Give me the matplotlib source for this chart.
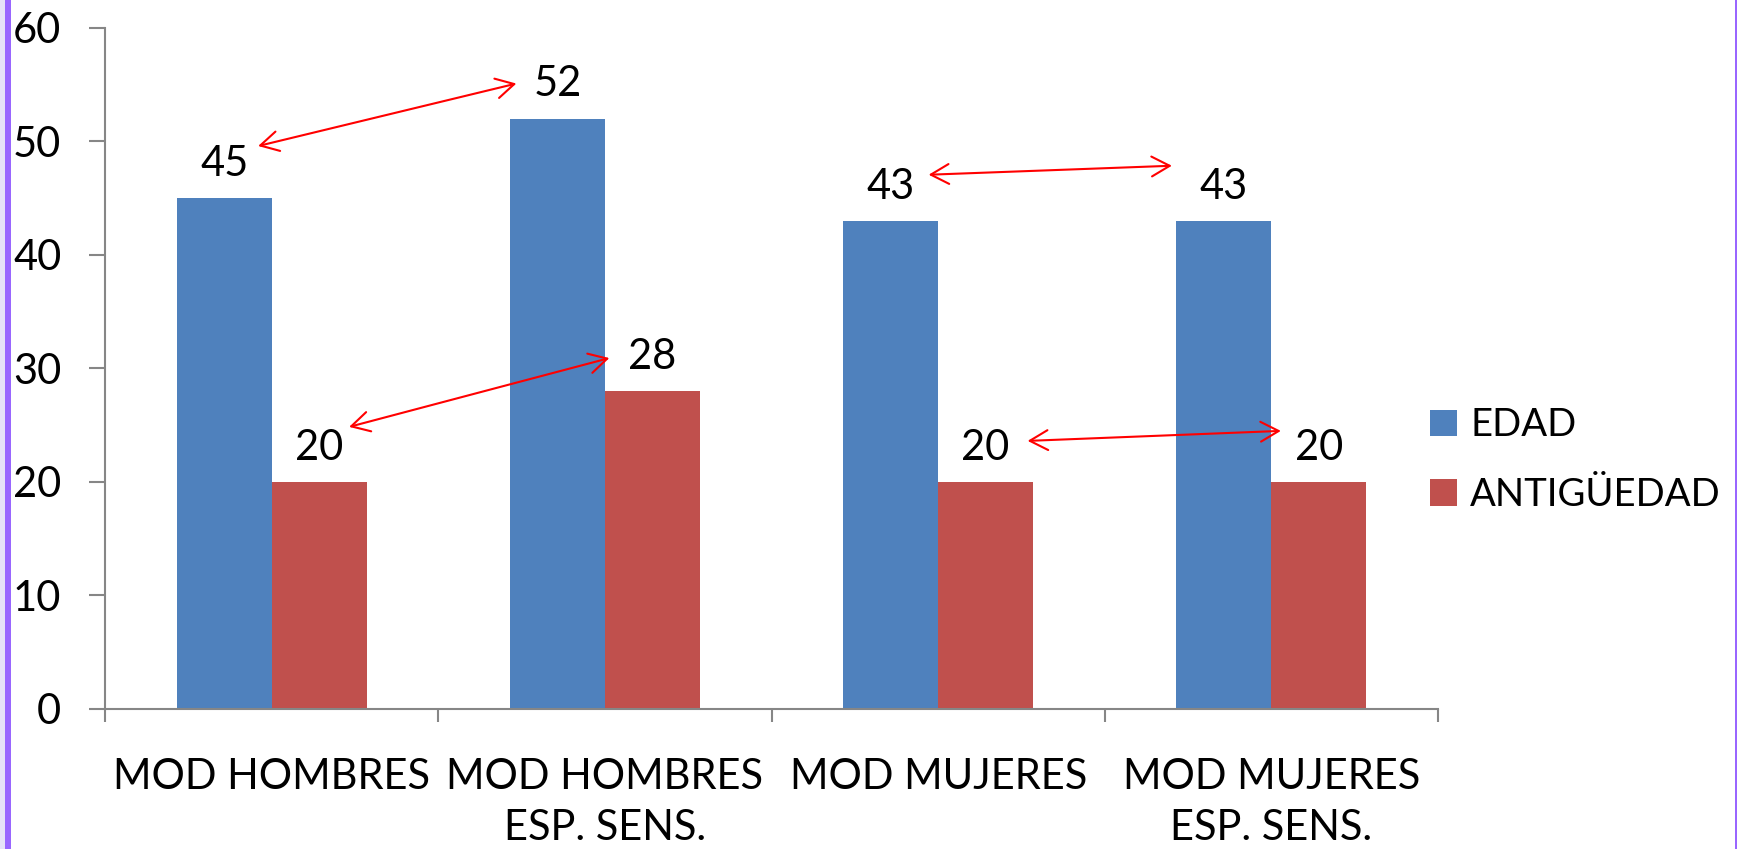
import matplotlib
matplotlib.use("Agg")
import matplotlib.pyplot as plt
from matplotlib.patches import Rectangle

plt.rcParams['font.family'] = ['Lato', 'DejaVu Sans']

# datos del grafico
categorias = ['MOD HOMBRES', 'MOD HOMBRES\nESP. SENS.', 'MOD MUJERES', 'MOD MUJERES\nESP. SENS.']
series = ['EDAD', 'ANTIGÜEDAD']
edad = [45, 52, 43, 43]
antiguedad = [20, 28, 20, 20]
colores = ['#4F81BD', '#C0504D']

# flechas rojas: (serie, categoria origen, categoria destino)
flechas = [(0, 0, 1), (1, 0, 1), (0, 2, 3), (1, 2, 3)]
# desplazamiento de las puntas respecto al centro de la etiqueta (px)
desp_flechas = [((34, 15), (-41, -2)),
                ((30, 18), (-43, -4)),
                ((38, 9), (-52, 18)),
                ((42, 4), (-38, 14))]

DPI = 100
fig = plt.figure(figsize=(17.37, 8.49), dpi=DPI)
ax = fig.add_axes([105 / 1737, 1 - 709 / 849, (1438 - 105) / 1737, (709 - 27.7) / 849])

ancho = 0.285
valores = [edad, antiguedad]
xs = list(range(len(categorias)))
posiciones = []
for i, vals in enumerate(valores):
    pos = [x + (i - 0.5) * ancho for x in xs]
    posiciones.append(pos)
    ax.bar(pos, vals, width=ancho, color=colores[i], label=series[i], zorder=2)
    for p, v in zip(pos, vals):
        ax.annotate(str(v), (p, v), xytext=(0, 16), textcoords='offset points',
                    ha='center', va='baseline', fontsize=30)

ax.set_xlim(-0.5, len(categorias) - 0.5)
ax.set_ylim(0, 60)
ax.set_yticks(range(0, 61, 10))
ax.set_xticks(xs)
ax.set_xticklabels(categorias, fontsize=30, linespacing=1.42)
ax.set_xticks([x - 0.5 for x in xs] + [len(xs) - 0.5], minor=True)
ax.tick_params(axis='x', which='major', length=0, pad=35.5)
ax.tick_params(axis='x', which='minor', length=9.5, width=1.5, color='#868686')
ax.tick_params(axis='y', length=11.5, width=1.5, color='#868686', labelsize=30, pad=20)

for s in ['top', 'right']:
    ax.spines[s].set_visible(False)
for s in ['left', 'bottom']:
    ax.spines[s].set_color('#868686')
    ax.spines[s].set_linewidth(1.5)

# flechas entre etiquetas
fig.canvas.draw()
for (serie, a, b), (d0, d1) in zip(flechas, desp_flechas):
    vals = valores[serie]
    p0 = ax.transData.transform((posiciones[serie][a], vals[a]))
    p1 = ax.transData.transform((posiciones[serie][b], vals[b]))
    ini = (p0[0] + d0[0], p0[1] + 37 + d0[1])
    fin = (p1[0] + d1[0], p1[1] + 37 + d1[1])
    ax.annotate('', xy=fin, xycoords='figure pixels', xytext=ini, textcoords='figure pixels',
                arrowprops=dict(arrowstyle='<->,head_length=1.0,head_width=0.55',
                                color='#FF0000', lw=1.5, mutation_scale=13,
                                shrinkA=0, shrinkB=0))

fig.legend(loc='center left', bbox_to_anchor=(1430 / 1737, 1 - 460 / 849), frameon=False,
           fontsize=27.5, handlelength=0.7, handleheight=0.68, handletextpad=0.35,
           labelspacing=0.88, borderpad=0, borderaxespad=0)

# bordes morados de la diapositiva
fig.patches.append(Rectangle((0, 0), 5 / 1737, 1, transform=fig.transFigure,
                             facecolor='#E6E2F8', edgecolor='none'))
fig.patches.append(Rectangle((5 / 1737, 0), 6 / 1737, 1, transform=fig.transFigure,
                             facecolor='#9966FF', edgecolor='none'))
fig.patches.append(Rectangle((1 - 2 / 1737, 0), 2 / 1737, 1, transform=fig.transFigure,
                             facecolor='#9966FF', edgecolor='none'))

fig.savefig('out.png', dpi=DPI)
